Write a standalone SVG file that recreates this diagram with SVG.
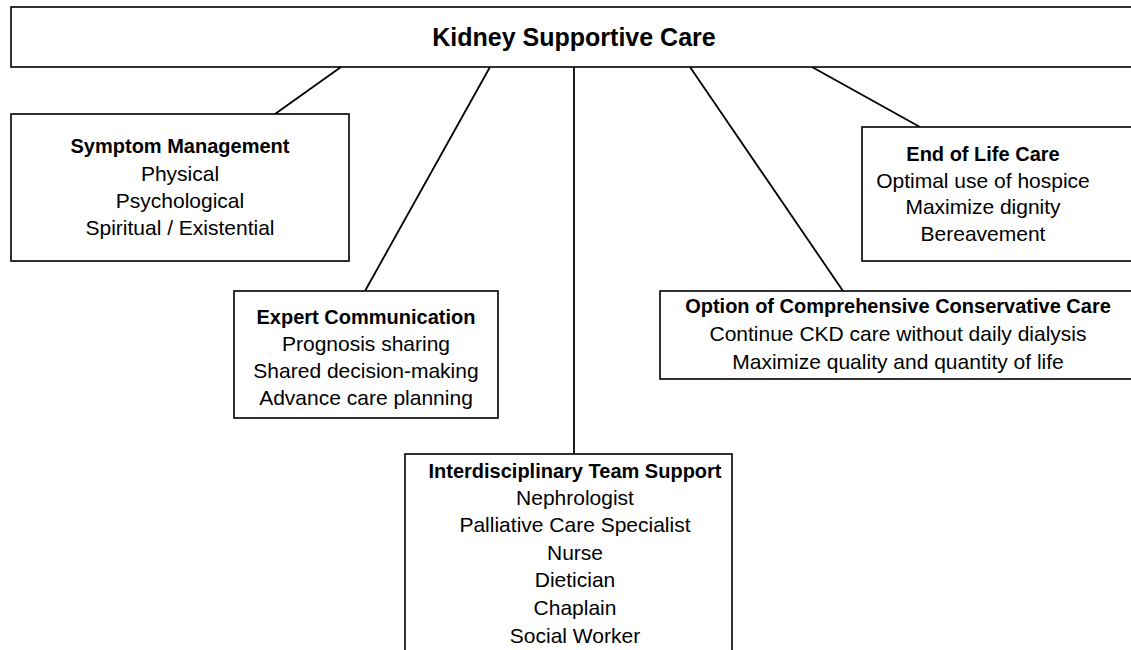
<svg xmlns="http://www.w3.org/2000/svg" width="1131" height="650" viewBox="0 0 1131 650">
<style>
.box{fill:#fff;stroke:#000;stroke-width:1.6}
.conn line{stroke:#000;stroke-width:1.8}
text{font-family:"Liberation Sans",Arial,sans-serif;fill:#000;text-anchor:middle}
.t{font-weight:bold;font-size:20px}
.r{font-size:21px}
.main{font-weight:bold;font-size:25px}
</style>
<rect width="1131" height="650" fill="#fff"/>
<g id="connectors" class="conn">
<line x1="341" y1="67" x2="275" y2="114"/>
<line x1="490" y1="67" x2="365" y2="291"/>
<line x1="574" y1="67" x2="574" y2="454"/>
<line x1="690" y1="67" x2="843" y2="291"/>
<line x1="812" y1="67" x2="920" y2="127"/>
</g>
<g id="root">
<rect class="box" x="11" y="7" width="1130" height="60"/>
<text class="main" x="574" y="46">Kidney Supportive Care</text>
</g>
<g id="symptom">
<rect class="box" x="11" y="114" width="338" height="147"/>
<text class="t" x="180" y="153">Symptom Management</text>
<text class="r" x="180" y="181">Physical</text>
<text class="r" x="180" y="208">Psychological</text>
<text class="r" x="180" y="235">Spiritual / Existential</text>
</g>
<g id="expert">
<rect class="box" x="234" y="291" width="264" height="127"/>
<text class="t" x="366" y="324">Expert Communication</text>
<text class="r" x="366" y="351">Prognosis sharing</text>
<text class="r" x="366" y="378">Shared decision-making</text>
<text class="r" x="366" y="405">Advance care planning</text>
</g>
<g id="team">
<rect class="box" x="405" y="454" width="327" height="210"/>
<text class="t" x="575" y="478">Interdisciplinary Team Support</text>
<text class="r" x="575" y="505">Nephrologist</text>
<text class="r" x="575" y="532">Palliative Care Specialist</text>
<text class="r" x="575" y="560">Nurse</text>
<text class="r" x="575" y="587">Dietician</text>
<text class="r" x="575" y="615">Chaplain</text>
<text class="r" x="575" y="643">Social Worker</text>
</g>
<g id="conservative">
<rect class="box" x="660" y="291" width="480" height="88"/>
<text class="t" x="898" y="313">Option of Comprehensive Conservative Care</text>
<text class="r" x="898" y="341">Continue CKD care without daily dialysis</text>
<text class="r" x="898" y="369">Maximize quality and quantity of life</text>
</g>
<g id="endoflife">
<rect class="box" x="862" y="127" width="278" height="134"/>
<text class="t" x="983" y="161">End of Life Care</text>
<text class="r" x="983" y="188">Optimal use of hospice</text>
<text class="r" x="983" y="214">Maximize dignity</text>
<text class="r" x="983" y="241">Bereavement</text>
</g>
</svg>
